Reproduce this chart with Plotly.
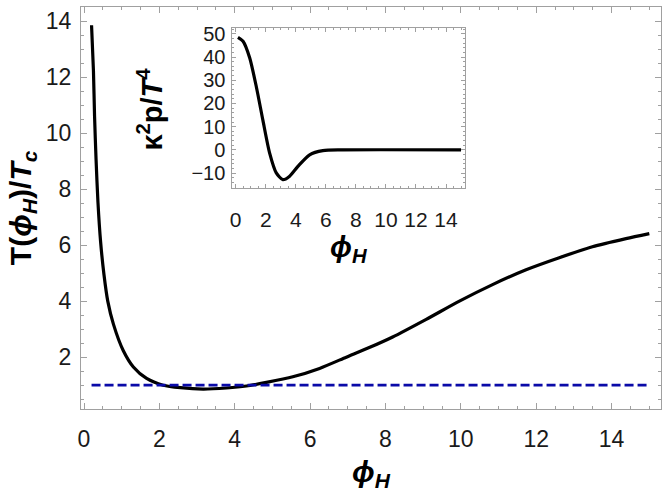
import plotly.graph_objects as go

# Main curve: T(phi_H)/T_c versus phi_H
phi_main = [0.2, 0.25, 0.28, 0.32, 0.37, 0.44, 0.53, 0.63, 0.78, 1.04, 1.31, 1.66,
            2.1, 2.56, 3.16, 3.78, 4.31, 4.84, 5.54, 6.25, 6.96, 7.6, 8.19, 9.08,
            9.96, 10.84, 11.73, 12.61, 13.49, 14.38, 15.0]
t_main = [13.85, 12.23, 10.59, 9.05, 7.53, 6.12, 4.94, 4.0, 3.18, 2.24, 1.65, 1.24,
          1.0, 0.91, 0.86, 0.9, 0.97, 1.1, 1.3, 1.6, 2.0, 2.36, 2.72, 3.35,
          4.0, 4.59, 5.12, 5.55, 5.94, 6.23, 6.41]

# Reference line T = T_c
phi_ref = [0.2, 15.0]
t_ref = [1.0, 1.0]

# Inset: kappa^2 p / T^4 versus phi_H
phi_inset = [0.15, 0.49, 0.93, 1.38, 1.81, 2.26, 2.70, 3.14, 3.59, 4.14, 4.92, 5.8, 7.13, 15.0]
p_inset = [48.5, 46.8, 39.7, 27.0, 12.8, -1.4, -9.9, -12.8, -11.3, -7.1, -2.1, -0.3, 0.0, 0.0]

FONT = "Arial, Liberation Sans, sans-serif"
FRAME = "#a0a0a0"
TXT = "#1a1a1a"

fig = go.Figure()
fig.add_trace(go.Scatter(x=phi_main, y=t_main, mode="lines",
                         line=dict(color="black", width=3.2, shape="spline", smoothing=0.7),
                         xaxis="x", yaxis="y", showlegend=False))
fig.add_trace(go.Scatter(x=phi_ref, y=t_ref, mode="lines",
                         line=dict(color="#0a0aa8", width=2.7, dash="9px,4px"),
                         xaxis="x", yaxis="y", showlegend=False))
fig.add_trace(go.Scatter(x=phi_inset, y=p_inset, mode="lines",
                         line=dict(color="black", width=3.2, shape="spline", smoothing=0.7),
                         xaxis="x2", yaxis="y2", showlegend=False))


def axis(rng, dtick, minor_dtick, domain, anchor, standoff, ticklen=6, minorlen=3, fsize=23):
    return dict(range=rng, domain=domain, anchor=anchor,
                tickmode="linear", tick0=0, dtick=dtick,
                ticks="inside", ticklen=ticklen, tickcolor=FRAME, tickwidth=1,
                minor=dict(ticks="inside", dtick=minor_dtick, ticklen=minorlen,
                           tickcolor=FRAME, tickwidth=1, showgrid=False),
                showline=True, linecolor=FRAME, linewidth=1, mirror="ticks",
                showgrid=False, zeroline=False, tickangle=0,
                ticklabelstandoff=standoff,
                tickfont=dict(family=FONT, size=fsize, color=TXT))


fig.update_layout(
    width=664, height=493,
    margin=dict(l=81, r=2, t=2, b=84),
    paper_bgcolor="white", plot_bgcolor="white",
    xaxis=axis([-0.08, 15.31], 2, 0.5, [0, 1], "y", 9),
    yaxis=axis([0.15, 14.5], 2, 0.5, [0, 1], "x", 4),
    xaxis2=axis([-0.22, 15.24], 2, 0.5, [0.261, 0.6615], "y2", 13, 4, 2, 21),
    yaxis2=axis([-16.3, 52.5], 10, 2, [0.5504, 0.9477], "x2", 2, 4, 2, 20),
)

ann = [
    dict(text="<b>T(<i>ϕ</i><sub><i>H</i></sub>)/<i>T</i><sub><i>c</i></sub></b>",
         x=-0.1015, y=0.5, textangle=-90, size=30),
    dict(text="<b><i>ϕ</i><sub><i>H</i></sub></b>", x=0.5, y=-0.16, textangle=0, size=30),
    dict(text="<b>κ<sup>2</sup>p/<i>T</i><sup>4</sup></b>", x=0.1188, y=0.747, textangle=-90, size=29),
    dict(text="<b><i>ϕ</i><sub><i>H</i></sub></b>", x=0.4613, y=0.398, textangle=0, size=29),
]
for a in ann:
    fig.add_annotation(text=a["text"], x=a["x"], y=a["y"], xref="paper", yref="paper",
                       xanchor="center", yanchor="middle", textangle=a["textangle"],
                       showarrow=False, font=dict(family=FONT, size=a["size"], color="black"))

fig.write_html("out.html", config={"displayModeBar": False},
               post_script="document.documentElement.style.margin='0';"
                           "document.body.style.margin='0';document.body.style.padding='0';")
